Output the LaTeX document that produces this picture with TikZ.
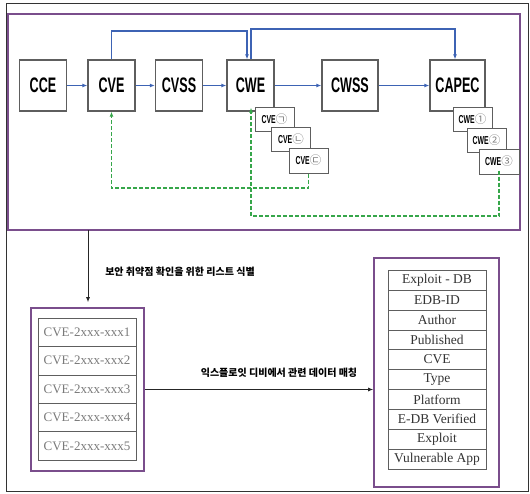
\documentclass[tikz,border=0pt]{standalone}
\usepackage{graphicx}
\usepackage{fontspec}
\setmainfont{Liberation Serif}
\setsansfont{Liberation Sans}
\newfontfamily\krfont{Noto Sans CJK KR}
\usepackage{xcolor}
\definecolor{flowblue}{HTML}{3D63B4}
\definecolor{linkgreen}{HTML}{36A64A}
\definecolor{framepurple}{HTML}{7A4E8C}
\definecolor{boxbd}{HTML}{5E5E5E}
\definecolor{rowtext}{HTML}{7A7A7A}
\usetikzlibrary{arrows.meta, positioning, fit}
\newcommand{\narrow}[1]{\scalebox{0.6}[1]{#1}}

\begin{document}
\begin{tikzpicture}[
        x=1pt, y=-1pt,
        std_box/.style={
            rectangle,
            draw=boxbd,
            line width=1.3pt,
            fill=white,
            minimum width=47,
            minimum height=51,
            inner sep=0pt,
            font=\sffamily\bfseries\fontsize{21}{23}\selectfont
        },
        tag_box/.style={
            rectangle,
            draw=boxbd,
            line width=1pt,
            fill=white,
            minimum width=39,
            minimum height=24,
            inner sep=0pt,
            font=\sffamily\bfseries\fontsize{11.5}{12}\selectfont
        },
        frame/.style={
            rectangle,
            draw=framepurple,
            line width=1.6pt,
            inner sep=0pt
        },
        cve_row/.style={
            rectangle,
            draw=boxbd,
            thin,
            minimum width=98,
            minimum height=28.4,
            inner sep=0pt,
            text=rowtext,
            font=\fontsize{13}{14}\selectfont
        },
        edb_row/.style={
            rectangle,
            draw=boxbd,
            thin,
            minimum width=98,
            minimum height=19.9,
            inner sep=0pt,
            text=black!80,
            font=\fontsize{13.5}{14}\selectfont
        },
        note/.style={
            font=\krfont\bfseries\fontsize{10}{12}\selectfont
        },
        flow/.style={
            -{Latex[length=5pt,width=4pt]},
            draw=flowblue,
            line width=1.1pt
        },
        link/.style={
            -{Latex[length=5pt,width=4pt]},
            draw=linkgreen,
            line width=1.3pt,
            dash pattern=on 4pt off 2pt
        },
        arrow/.style={
            -{Latex[length=5pt,width=4pt]},
            draw=black!85,
            line width=0.9pt
        }
    ]
    \useasboundingbox (0,0) rectangle (530,493);
    \draw[black!80, line width=0.8pt] (6,3) rectangle (528,491);

    % Standards chain (top)
    \node[frame, minimum width=512, minimum height=216] (mapframe) at (264,122) {};

    \node[std_box] (cce) at (43,85.5) {\narrow{CCE}};
    \node[std_box] (cve) at (111.5,85.5) {\narrow{CVE}};
    \node[std_box] (cvss) at (179,85.5) {\narrow{CVSS}};
    \node[std_box] (cwe) at (250.5,85.5) {\narrow{CWE}};
    \node[std_box, minimum width=56] (cwss) at (350,85.5) {\narrow{CWSS}};
    \node[std_box, minimum width=55] (capec) at (457.5,85.5) {\narrow{CAPEC}};

    \draw[flow] (cce) -- (cve);
    \draw[flow] (cve) -- (cvss);
    \draw[flow] (cvss) -- (cwe);
    \draw[flow] (cwe) -- (cwss);
    \draw[flow] (cwss) -- (capec);

    % Skip links over the top
    \draw[flow] (cve.north) -- (cve.north |- 0,31) -| ([xshift=-3.5]cwe.north);
    \draw[flow] ([xshift=0.5]cwe.north) -- ([xshift=0.5]cwe.north |- 0,29) -| ([xshift=-2.5]capec.north);

    % Related entries
    \node[tag_box] (cvetag1) at (274.5,119) {\narrow{CVE}{\krfont\mdseries\color{gray}㉠}};
    \node[tag_box] (cvetag2) at (291,139) {\narrow{CVE}{\krfont\mdseries\color{gray}㉡}};
    \node[tag_box, minimum height=25] (cvetag3) at (308.5,160.5) {\narrow{CVE}{\krfont\mdseries\color{gray}㉢}};

    \node[tag_box] (cwetag1) at (472.5,119) {\narrow{CWE}{\krfont\mdseries\color{gray}①}};
    \node[tag_box] (cwetag2) at (486.5,140.5) {\narrow{CWE}{\krfont\mdseries\color{gray}②}};
    \node[tag_box, minimum width=40, minimum height=25] (cwetag3) at (499,161.5) {\narrow{CWE}{\krfont\mdseries\color{gray}③}};

    % Feedback links
    \draw[link] (cvetag3.south) -- (cvetag3.south |- 0,188) -| (cve.south);
    \draw[link] ([yshift=4]cwetag3.south) -- (cwetag3.south |- 0,216) -| ([xshift=0.5, yshift=4]cwe.south);

    % Vulnerability list
    \coordinate (drop) at (88,230);
    \node[frame, minimum width=113, minimum height=163] (cvelist) at (87.5,389.5) {};
    \foreach \i in {1,...,5} {
        \node[cve_row] (row\i) at (87, {318+28.4*(\i-0.5)}) {CVE-2xxx-xxx\i};
    }
    \draw[arrow, shorten >=5pt] (drop) -- (drop |- cvelist.north);
    \node[note] (listlabel) at (180,272) {보안 취약점 확인을 위한 리스트 식별};

    % Exploit-DB fields
    \node[frame, minimum width=125, minimum height=229] (edb) at (436.5,372.5) {};
    \foreach \txt [count=\i] in {Exploit - DB, EDB-ID, Author, Published, CVE, Type, Platform, E-DB Verified, Exploit, Vulnerable App} {
        \node[edb_row] (field\i) at (437, {270+19.9*(\i-0.5)}) {\txt};
    }
    \draw[arrow] (cvelist.east) -- (cvelist.east -| edb.west);
    \node[note] (matchlabel) at (279,373) {익스플로잇 디비에서 관련 데이터 매칭};

\end{tikzpicture}
\end{document}
